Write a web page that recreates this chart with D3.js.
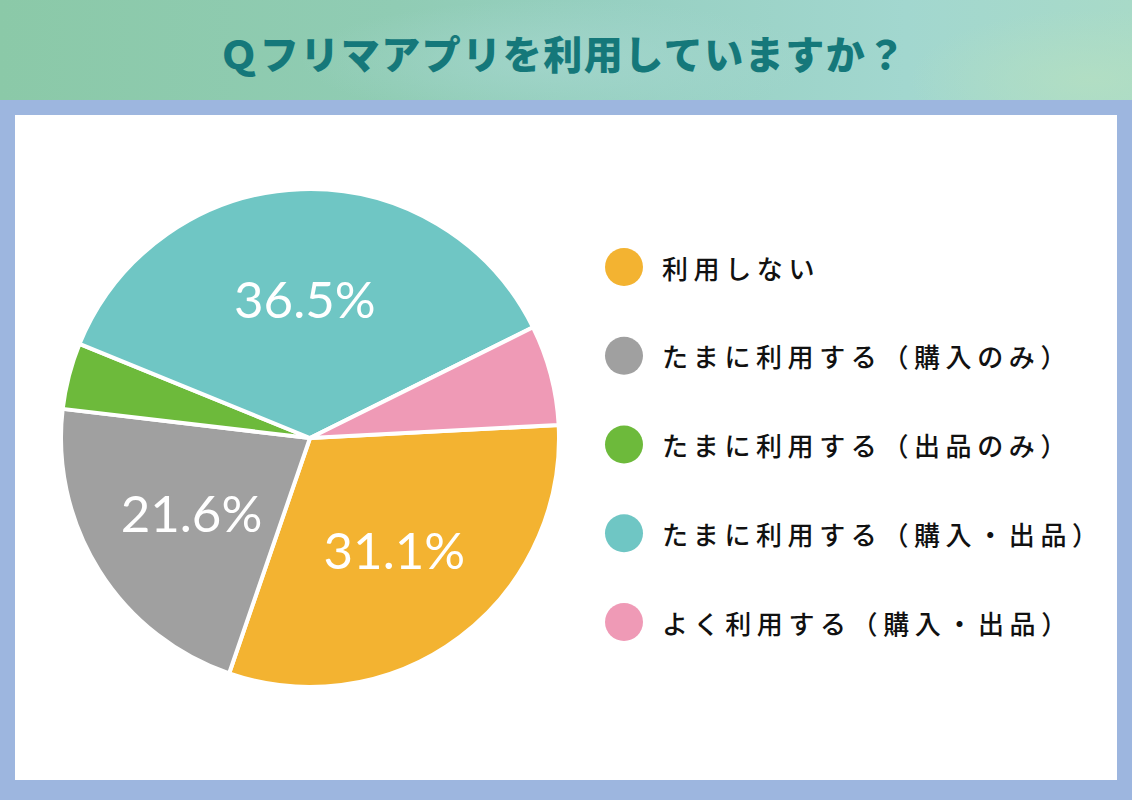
<!DOCTYPE html>
<html><head><meta charset="utf-8">
<script src="https://cdn.jsdelivr.net/npm/d3@7"></script>
<style>html,body{margin:0;padding:0;background:#9db6df;}svg{display:block;}</style>
</head><body>
<svg id="chart" width="1132" height="800"></svg>
<script>
const title = "Ｑフリマアプリを利用していますか？";
const categories = ["利用しない", "たまに利用する（購入のみ）", "たまに利用する（出品のみ）", "たまに利用する（購入・出品）", "よく利用する（購入・出品）"];
const values = [31.1, 21.6, 4.3, 36.5, 6.5];
const labels = ["31.1%", "21.6%", "", "36.5%", ""];
const colors = ["#f3b331", "#a0a0a0", "#6dba3b", "#6fc6c4", "#ef9ab6"];

const svg = d3.select("#chart");
const W = 1132, H = 800;

// header background
const defs = svg.append("defs");
const lg = defs.append("linearGradient").attr("id", "hdr").attr("x1", 0).attr("x2", 1).attr("y1", 0).attr("y2", 0);
[["0%", "#8bc9a8"], ["35%", "#90ccb4"], ["55%", "#97d0c2"], ["80%", "#a2d7cf"], ["100%", "#a8dac8"]]
  .forEach(([o, c]) => lg.append("stop").attr("offset", o).attr("stop-color", c));
const rg = defs.append("radialGradient").attr("id", "hdr2").attr("cx", "0.5").attr("cy", "0.5").attr("r", "0.5");
rg.append("stop").attr("offset", "0%").attr("stop-color", "#b4dfc2").attr("stop-opacity", 0.8);
rg.append("stop").attr("offset", "100%").attr("stop-color", "#b4dfc2").attr("stop-opacity", 0);
const rg3 = defs.append("radialGradient").attr("id", "hdr3").attr("cx", "0.5").attr("cy", "0.5").attr("r", "0.5");
rg3.append("stop").attr("offset", "0%").attr("stop-color", "#a6d7cf").attr("stop-opacity", 0.7);
rg3.append("stop").attr("offset", "100%").attr("stop-color", "#a6d7cf").attr("stop-opacity", 0);

svg.append("rect").attr("x", 0).attr("y", 0).attr("width", W).attr("height", 100).attr("fill", "url(#hdr)");
svg.append("ellipse").attr("cx", 1090).attr("cy", 80).attr("rx", 180).attr("ry", 70).attr("fill", "url(#hdr2)");
svg.append("ellipse").attr("cx", 560).attr("cy", 60).attr("rx", 260).attr("ry", 60).attr("fill", "url(#hdr3)");

// blue frame and white panel
svg.append("rect").attr("x", 0).attr("y", 100).attr("width", W).attr("height", 700).attr("fill", "#9db6df");
svg.append("rect").attr("x", 15).attr("y", 115).attr("width", 1102).attr("height", 665).attr("fill", "#ffffff");

// title
svg.append("text").attr("x", 563).attr("y", 52)
  .attr("text-anchor", "middle").attr("dominant-baseline", "central")
  .attr("font-family", "'Noto Sans CJK JP', sans-serif").attr("font-weight", 900)
  .attr("font-size", 39).attr("letter-spacing", 1.5).attr("fill", "#15787a")
  .text(title);

// pie
const cx = 310, cy = 438, R = 249;
const start = 87 * Math.PI / 180;
const pie = d3.pie().sort(null).value(d => d).startAngle(start).endAngle(start + 2 * Math.PI);
const arcs = pie(values);
const arc = d3.arc().innerRadius(0).outerRadius(R);
const labelArc = d3.arc().innerRadius(140).outerRadius(140);
const g = svg.append("g").attr("transform", `translate(${cx},${cy})`);
g.selectAll("path").data(arcs).join("path")
  .attr("d", arc).attr("fill", (d, i) => colors[i])
  .attr("stroke", "#ffffff").attr("stroke-width", 4).attr("stroke-linejoin", "round");
g.selectAll("text.pct").data(arcs).join("text").attr("class", "pct")
  .attr("transform", d => `translate(${labelArc.centroid(d)})`)
  .attr("text-anchor", "middle").attr("dominant-baseline", "central")
  .attr("font-family", "Lato, 'Open Sans', sans-serif").attr("font-size", 51).attr("font-weight", 400)
  .attr("fill", "#ffffff")
  .text((d, i) => labels[i]);

// legend
const ly = d3.scalePoint().domain(categories).range([267, 622]);
const lgd = svg.append("g");
const items = lgd.selectAll("g").data(categories).join("g")
  .attr("transform", d => `translate(624,${ly(d)})`);
items.append("circle").attr("r", 19).attr("fill", (d, i) => colors[i]);
items.append("text").attr("x", 38).attr("y", 0).attr("dominant-baseline", "central")
  .attr("font-family", "'Noto Sans CJK JP', sans-serif").attr("font-weight", 500)
  .attr("font-size", 26).attr("letter-spacing", 5.6).attr("fill", "#111111")
  .text(d => d);
</script>
</body></html>
